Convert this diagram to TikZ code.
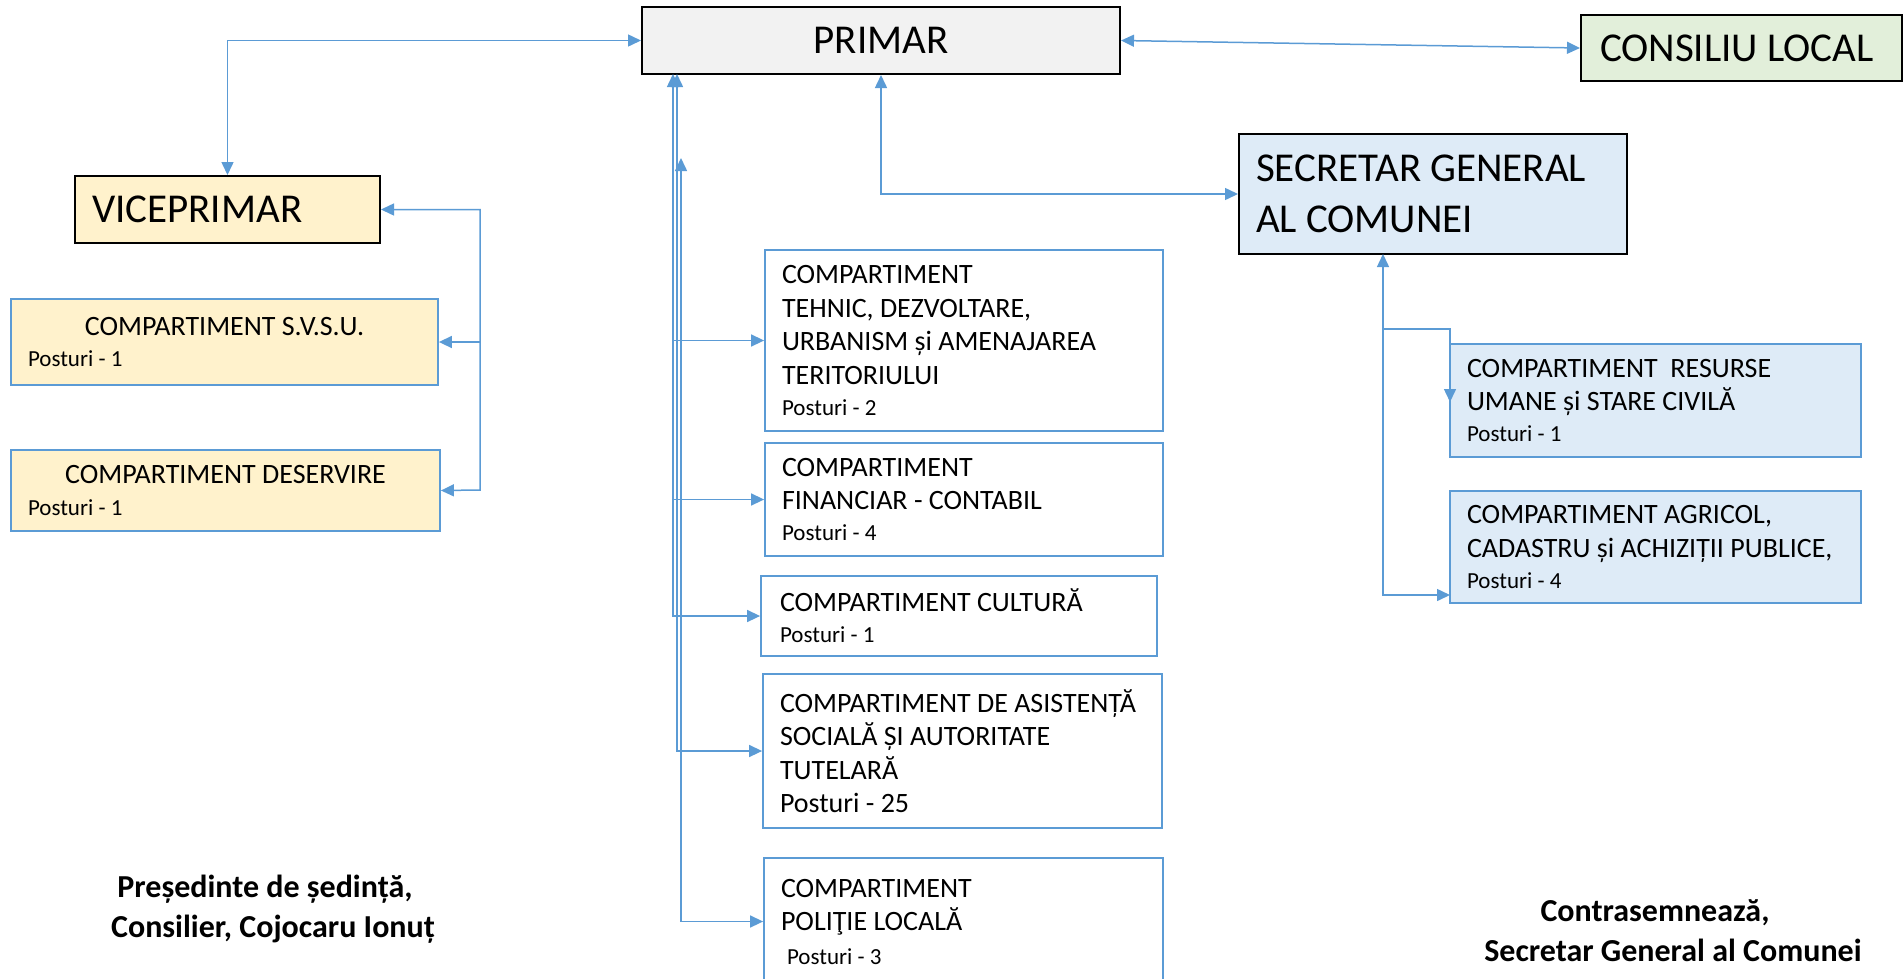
\documentclass[tikz,border=0pt]{standalone}
\usepackage{fontspec}
\setmainfont{Carlito}
\usetikzlibrary{arrows.meta}
\definecolor{lineblue}{HTML}{5B9BD5}
\definecolor{grayfill}{HTML}{F2F2F2}
\definecolor{greenfill}{HTML}{E2EFDA}
\definecolor{yellowfill}{HTML}{FFF2CC}
\definecolor{bluefill}{HTML}{DEEBF7}
\newcommand\myfs[2]{\fontsize{#1}{#2}\selectfont}
\newcommand\nsp{\spaceskip=0pt\xspaceskip=0pt\relax}
\newcommand\post[1]{{\myfs{23}{31}Posturi - #1}}
\tikzset{
  headbox/.style={draw=black, line width=2pt, inner ysep=0pt, inner xsep=17pt, align=left, font=\myfs{41}{51}},
  compbox/.style={draw=lineblue, line width=1.8pt, fill=white, inner ysep=0pt, inner xsep=17pt, align=left, font=\myfs{28}{33.5}},
  conn/.style={draw=lineblue, line width=1.5pt},
  signtext/.style={font=\bfseries\myfs{32}{40}, align=center, inner sep=0pt}
}
\begin{document}
\begin{tikzpicture}[x=1pt,y=-1pt,>={Triangle[length=13pt,width=12pt]}]
\useasboundingbox (0,0) rectangle (1904,978);

% top level
\node[headbox, fill=grayfill, align=center, minimum width=478pt, minimum height=67pt, text width=444pt] (primar) at (881,40.5) {\nsp PRIMAR};
\node[headbox, fill=greenfill, inner xsep=19pt, minimum width=321pt, minimum height=66pt, text width=283pt] (consiliu) at (1741.5,48) {\nsp CONSILIU LOCAL};
\node[headbox, fill=yellowfill, minimum width=305pt, minimum height=67pt, text width=271pt] (vice) at (227.5,209.5) {\nsp VICEPRIMAR};
\node[headbox, fill=bluefill, minimum width=388pt, minimum height=120pt, text width=354pt] (secretar) at (1433,194) {\nsp SECRETAR GENERAL\\AL COMUNEI};

% viceprimar children
\node[compbox, fill=yellowfill, minimum width=427pt, minimum height=86pt, text width=393pt] (svsu) at (224.5,342) {\nsp\hbox to \hsize{\hss COMPARTIMENT S.V.S.U.\hss}\\[-2pt]\post{1}};
\node[compbox, fill=yellowfill, minimum width=429pt, minimum height=81pt, text width=395pt] (deservire) at (225.5,490.5) {\nsp\hbox to \hsize{\hss COMPARTIMENT DESERVIRE\hss}\\[-2pt]\post{1}};

% primar children
\node[compbox, minimum width=398pt, minimum height=181pt, text width=364pt] (tehnic) at (964,340.5) {\nsp COMPARTIMENT\\TEHNIC, DEZVOLTARE,\\URBANISM și AMENAJAREA\\TERITORIULUI\\[-2.5pt]\post{2}};
\node[compbox, minimum width=398pt, minimum height=113pt, text width=364pt] (financiar) at (964,499.5) {\nsp COMPARTIMENT\\FINANCIAR - CONTABIL\\[-2.5pt]\post{4}};
\node[compbox, inner xsep=19pt, minimum width=396pt, minimum height=80pt, text width=358pt] (cultura) at (959,616) {\nsp COMPARTIMENT CULTURĂ\\[-2.5pt]\post{1}};
\node[compbox, minimum width=399pt, minimum height=154pt, text width=365pt] (asistenta) at (962.5,751) {\nsp COMPARTIMENT DE ASISTENȚĂ\\SOCIALĂ ȘI AUTORITATE\\TUTELARĂ\\Posturi - 25};
\node[compbox, minimum width=399pt, minimum height=127pt, text width=365pt] (politie) at (963.5,921.5) {\nsp COMPARTIMENT\\POLIŢIE LOCALĂ\\\hspace*{6pt}\post{3}};

% secretar children
\node[compbox, fill=bluefill, minimum width=411pt, minimum height=113pt, text width=377pt] (resurse) at (1655.5,400.5) {\nsp COMPARTIMENT~~RESURSE\\UMANE și STARE CIVILĂ\\[-2.5pt]\post{1}};
\node[compbox, fill=bluefill, minimum width=411pt, minimum height=112pt, text width=377pt] (agricol) at (1655.5,547) {\nsp COMPARTIMENT AGRICOL,\\CADASTRU și ACHIZIȚII PUBLICE,\\[-2.5pt]\post{4}};

% signatures
\node[signtext] (presedinte) at (273,909) {\nsp\hspace*{-16pt}Președinte de ședință,\\Consilier, Cojocaru Ionuț};
\node[signtext] (contra) at (1673,931) {\nsp\hspace*{-36pt}Contrasemnează,\\Secretar General al Comunei};

% helper coordinates
\coordinate (vbus) at (480,490);
\coordinate (busA) at (673,74);
\coordinate (busB) at (677,74);
\coordinate (busC) at (681,158);
\coordinate (sb) at (1383,254);
\coordinate (sj) at (1383,329);
\coordinate (rtip) at (1450,402);
\coordinate (sa) at (1450,595);

% connectors
\draw[conn,<->] (primar.west) -| (vice.north);
\draw[conn,<->] (primar.east) -- (consiliu.west);
\draw[conn,<->] (primar.south) |- (secretar.west);

\draw[conn,<->] (vice.east) -| (vbus) -- (deservire.east);
\draw[conn,->] (svsu.east -| vbus) -- (svsu.east);

\draw[conn,<->] (busA) |- (cultura.west);
\draw[conn,->] (busA |- tehnic.west) -- (tehnic.west);
\draw[conn,->] (busA |- financiar.west) -- (financiar.west);
\draw[conn,<->] (busB) |- (asistenta.west);
\draw[conn,<->] (busC) |- (politie.west);

\draw[conn,<->] (sb) |- (sa);
\draw[conn,->] (sj) -| (rtip);
\end{tikzpicture}
\end{document}
